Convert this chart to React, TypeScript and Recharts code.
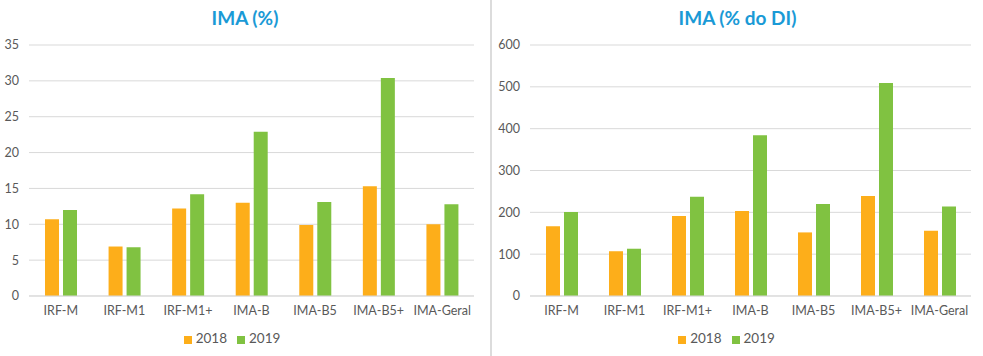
import { BarChart, Bar, XAxis, YAxis, CartesianGrid, Legend } from "recharts";

const categories = ["IRF-M", "IRF-M1", "IRF-M1+", "IMA-B", "IMA-B5", "IMA-B5+", "IMA-Geral"];

// IMA (%)
const pct2018 = [10.7, 6.9, 12.2, 13.0, 9.9, 15.3, 10.0];
const pct2019 = [12.0, 6.8, 14.2, 22.9, 13.1, 30.4, 12.8];
const pctTicks = [0, 5, 10, 15, 20, 25, 30, 35];

// IMA (% do DI)
const di2018 = [167, 107, 191, 203, 152, 239, 156];
const di2019 = [201, 113, 237, 384, 220, 509, 214];
const diTicks = [0, 100, 200, 300, 400, 500, 600];

const ORANGE = "#fdae1a";
const GREEN = "#80c241";
const AXIS_TEXT = "#595959";
const GRID = "#d9d9d9";
const TITLE = "#1a9ad6";

const pctData = categories.map((name, i) => ({ name, y2018: pct2018[i], y2019: pct2019[i] }));
const diData = categories.map((name, i) => ({ name, y2018: di2018[i], y2019: di2019[i] }));

interface PanelProps {
  title: string;
  data: { name: string; y2018: number; y2019: number }[];
  ticks: number[];
  width: number;
  yWidth: number;
  right: number;
}

function Panel({ title, data, ticks, width, yWidth, right }: PanelProps) {
  return (
    <div style={{ position: "relative", width, height: 356 }}>
      <div
        style={{
          position: "absolute",
          top: 6,
          left: 0,
          width: "100%",
          textAlign: "center",
          color: TITLE,
          fontWeight: 700,
          fontSize: 19,
        }}
      >
        {title}
      </div>
      <BarChart
        width={width}
        height={356}
        data={data}
        margin={{ top: 45, right, left: 0, bottom: 6 }}
        barSize={14}
        barGap={4}
      >
        <CartesianGrid vertical={false} stroke={GRID} />
        <XAxis
          dataKey="name"
          axisLine={{ stroke: GRID }}
          tickLine={false}
          tickSize={0}
          tickMargin={10}
          height={30}
          tick={{ fill: AXIS_TEXT, fontSize: 12.5 }}
          interval={0}
        />
        <YAxis
          domain={[ticks[0], ticks[ticks.length - 1]]}
          ticks={ticks}
          axisLine={false}
          tickLine={false}
          tickSize={0}
          tickMargin={10}
          width={yWidth}
          tick={{ fill: AXIS_TEXT, fontSize: 12.5 }}
        />
        <Legend
          verticalAlign="bottom"
          iconType="square"
          iconSize={8}
          wrapperStyle={{ fontSize: 13.5, color: AXIS_TEXT, height: 24, lineHeight: "24px" }}
          formatter={(v) => <span style={{ color: AXIS_TEXT }}>{v}</span>}
        />
        <Bar dataKey="y2018" name="2018" fill={ORANGE} isAnimationActive={false} />
        <Bar dataKey="y2019" name="2019" fill={GREEN} isAnimationActive={false} />
      </BarChart>
    </div>
  );
}

export default function App() {
  return (
    <div
      style={{
        position: "absolute",
        top: 0,
        left: 0,
        width: 983,
        height: 356,
        background: "#fff",
        display: "flex",
        fontFamily: "Lato, 'Open Sans', sans-serif",
      }}
    >
      <Panel title="IMA (%)" data={pctData} ticks={pctTicks} width={490} yWidth={29} right={16} />
      <div style={{ width: 2, height: 356, background: "#dcdcdc" }} />
      <Panel title="IMA (% do DI)" data={diData} ticks={diTicks} width={491} yWidth={38} right={12} />
    </div>
  );
}
